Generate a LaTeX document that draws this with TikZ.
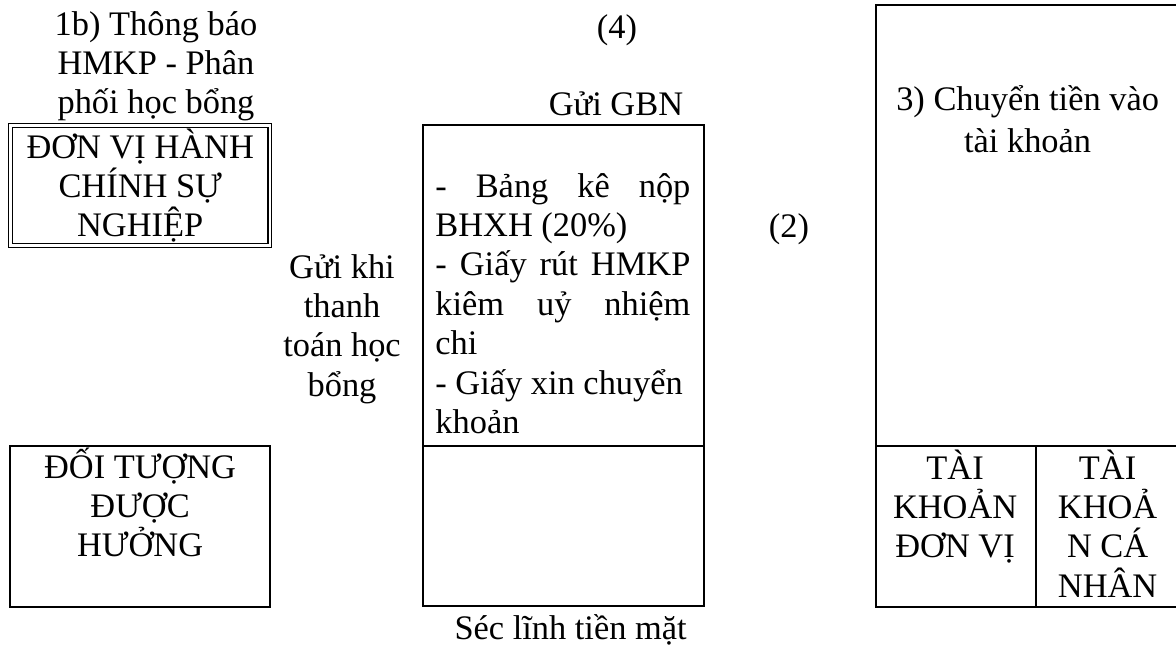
\documentclass[tikz,border=0pt]{standalone}
\usepackage{fontspec}
\setmainfont{Liberation Serif}
\usetikzlibrary{calc,positioning}

\newcommand{\fullline}[1]{\leavevmode\hbox to \hsize{#1}}

\begin{document}
\begin{tikzpicture}[x=0.5pt,y=-0.5pt]

\tikzset{boxnode/.style={draw,line width=1.1pt,inner sep=0pt,anchor=north west},
dblnode/.style={draw,double,line width=0.6pt,double distance=1.2pt,inner sep=0pt,anchor=north west},
txtnode/.style={font=\fontsize{17.2}{19.7}\selectfont,inner sep=0pt,text width=150pt,align=flush center,anchor=base}}

\useasboundingbox (0,0) rectangle (1176,648);

% Boxes
\node[dblnode,minimum width=129.6pt,minimum height=60pt] (dvhc) at (10,125) {};
\node[boxnode,minimum width=130pt,minimum height=80.5pt] (doituong) at (9,445) {};
\node[boxnode,minimum width=140.5pt,minimum height=160.5pt] (hoso) at (422,124) {};
\node[boxnode,minimum width=140.5pt,minimum height=80pt] (sec) at (422,445) {};
\node[boxnode,minimum width=152.5pt,minimum height=220.5pt] (kbnn) at (875,4) {};
\node[boxnode,minimum width=80pt,minimum height=80.5pt] (tkdv) at (875,445) {};
\node[boxnode,minimum width=72.5pt,minimum height=80.5pt] (tkcn) at (1035,445) {};

% Labels in the boxes
\node[txtnode] (dvhctext) at ($(dvhc.north)+(0,33)$) {ĐƠN VỊ HÀNH\\CHÍNH SỰ\\NGHIỆP};
\node[txtnode] (doituongtext) at ($(doituong.north)+(0,33)$) {ĐỐI TƯỢNG\\ĐƯỢC\\HƯỞNG};
\node[txtnode,align=flush left,text width=127.5pt,anchor=base west] (giayto) at (435,197)
  {\fullline{-\hfill Bảng\hfill kê\hfill nộp}\\BHXH (20\%)\\\fullline{-\hfill Giấy\hfill rút\hfill HMKP}\\
   \fullline{kiêm\hfill uỷ\hfill nhiệm}\\chi\\- Giấy xin chuyển\\khoản};
\node[txtnode] (cktext) at ($(kbnn.north)+(-1,106)$) {3) Chuyển tiền vào\\[1.5pt]tài khoản};
\node[txtnode] (tkdvtext) at ($(tkdv.north)+(-1,34)$) {TÀI\\KHOẢN\\ĐƠN VỊ};
\node[txtnode] (tkcntext) at ($(tkcn.north)+(-1,34)$) {TÀI\\KHOẢ\\N CÁ\\NHÂN};

% Free labels
\node[txtnode] (thongbao) at (156,35) {1b) Thông báo\\HMKP - Phân\\phối học bổng};
\node[txtnode] (buoc4) at (617,38) {(4)};
\node[txtnode] (guigbn) at (616,115) {Gửi GBN};
\node[txtnode] (buoc2) at (789,237) {(2)};
\node[txtnode] (guikhi) at (342,278) {Gửi khi\\thanh\\toán học\\bổng};
\node[txtnode] (seclinh) at ($(sec.south)+(7,32)$) {Séc lĩnh tiền mặt};

\end{tikzpicture}
\end{document}
